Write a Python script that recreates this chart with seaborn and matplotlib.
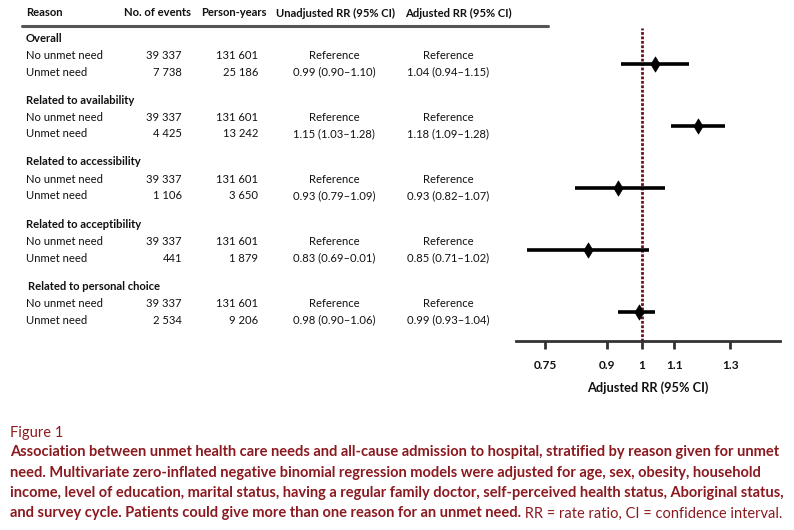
import matplotlib
matplotlib.use("Agg")
import matplotlib.pyplot as plt
import seaborn as sns
import numpy as np
import pandas as pd
from matplotlib.ticker import FixedLocator, NullLocator

# ---------------- data ----------------
groups = ["Overall", "Related to availability", "Related to accessibility",
          "Related to acceptibility", "Related to personal choice"]
row_labels = ["No unmet need", "Unmet need"]
events_no = ["39 337", "39 337", "39 337", "39 337", "39 337"]
events_yes = ["7 738", "4 425", "1 106", "441", "2 534"]
py_no = ["131 601", "131 601", "131 601", "131 601", "131 601"]
py_yes = ["25 186", "13 242", "3 650", "1 879", "9 206"]
unadj_yes = ["0.99 (0.90\u20131.10)", "1.15 (1.03\u20131.28)", "0.93 (0.79\u20131.09)",
             "0.83 (0.69\u20130.01)", "0.98 (0.90\u20131.06)"]
adj_yes = ["1.04 (0.94\u20131.15)", "1.18 (1.09\u20131.28)", "0.93 (0.82\u20131.07)",
           "0.85 (0.71\u20131.02)", "0.99 (0.93\u20131.04)"]
adj_rr = [1.04, 1.18, 0.93, 0.85, 0.99]
adj_lo = [0.94, 1.09, 0.82, 0.71, 0.93]
adj_hi = [1.15, 1.28, 1.07, 1.02, 1.04]
headers = ["Reason", "No. of events", "Person-years", "Unadjusted RR (95% CI)", "Adjusted RR (95% CI)"]
xticks = [0.75, 0.9, 1, 1.1, 1.3]
xtick_labels = ["0.75", "0.9", "1", "1.1", "1.3"]
xlabel = "Adjusted RR (95% CI)"
caption_title = "Figure 1"
caption_lines = [
    "Association between unmet health care needs and all-cause admission to hospital, stratified by reason given for unmet",
    "need. Multivariate zero-inflated negative binomial regression models were adjusted for age, sex, obesity, household",
    "income, level of education, marital status, having a regular family doctor, self-perceived health status, Aboriginal status,",
    "and survey cycle. Patients could give more than one reason for an unmet need.",
]
caption_tail = " RR = rate ratio, CI = confidence interval."

# ---------------- style ----------------
sns.set_theme(style="white")
plt.rcParams["font.family"] = ["Lato", "DejaVu Sans"]
W, H = 794, 530
fig = plt.figure(figsize=(W / 100, H / 100), dpi=100)
fig.patch.set_facecolor("white")
CAP_COLOR = "#8b1a20"
TXT = "#111111"

def fy(px):
    return 1 - px / H

def fx(px):
    return px / W

# layout (pixel rows)
group_y = [38 + 62 * k for k in range(len(groups))]
no_y = [g + 17.5 for g in group_y]
yes_y = [g + 34 for g in group_y]
mark_y = [(a + b) / 2 for a, b in zip(no_y, yes_y)]

FS = 8.1

# header
hx = [(26, "left"), (157, "center"), (234, "center"), (336, "center"), (458, "center")]
for (x, ha), h in zip(hx, headers):
    fig.text(fx(x), fy(13), h, ha=ha, va="center", fontsize=FS, fontweight="bold", color=TXT)
fig.add_artist(plt.Line2D([fx(22), fx(548)], [fy(26), fy(26)], color="#555555", lw=2.2))

for i, g in enumerate(groups):
    gx = 28 if i == len(groups) - 1 else 26
    fig.text(fx(gx), fy(group_y[i]), g, ha="left", va="center", fontsize=FS, fontweight="bold", color=TXT)
    for yy, lab, ev, py, un, ad in [
        (no_y[i], row_labels[0], events_no[i], py_no[i], "Reference", "Reference"),
        (yes_y[i], row_labels[1], events_yes[i], py_yes[i], unadj_yes[i], adj_yes[i]),
    ]:
        fig.text(fx(26), fy(yy), lab, ha="left", va="center", fontsize=FS, color=TXT)
        fig.text(fx(182), fy(yy), ev, ha="right", va="center", fontsize=FS, color=TXT)
        fig.text(fx(258), fy(yy), py, ha="right", va="center", fontsize=FS, color=TXT)
        fig.text(fx(334), fy(yy), un, ha="center", va="center", fontsize=FS, color=TXT)
        fig.text(fx(448), fy(yy), ad, ha="center", va="center", fontsize=FS, color=TXT)

# ---------------- forest axes ----------------
ax_left, ax_right, ax_top, ax_bot = 516, 780, 28, 341
ax = fig.add_axes([fx(ax_left), fy(ax_bot), (ax_right - ax_left) / W, (ax_bot - ax_top) / H])
ax.set_xscale("log")
ax.set_xlim(0.687, 1.507)
ax.set_ylim(ax_bot, ax_top)

df = pd.DataFrame({"rr": adj_rr, "lo": adj_lo, "hi": adj_hi, "y": mark_y})
ax.hlines(df["y"], df["lo"], df["hi"], color="black", lw=2.6, zorder=3)
sns.scatterplot(data=df, x="rr", y="y", marker="d", s=60, color="black",
                edgecolor="black", linewidth=0.5, ax=ax, zorder=4, legend=False)
ax.axvline(1, color="#6e0f1e", lw=2.0, ls=(0, (1, 0.6)), zorder=2)

for s in ["top", "right", "left"]:
    ax.spines[s].set_visible(False)
ax.spines["bottom"].set_color("#333333")
ax.spines["bottom"].set_linewidth(2)
ax.set_facecolor("none")
ax.xaxis.set_major_locator(FixedLocator(xticks))
ax.xaxis.set_minor_locator(NullLocator())
ax.set_xticklabels(xtick_labels, fontweight="bold", fontsize=8.6, color=TXT)
ax.tick_params(axis="x", which="major", direction="out", length=6, width=2, color="#333333",
               pad=8, bottom=True)
ax.set_yticks([])
ax.set_ylabel("")
ax.set_xlabel(xlabel, fontweight="bold", fontsize=9.2, color=TXT, labelpad=7)

# ---------------- caption ----------------
fig.text(fx(10), fy(433), caption_title, ha="left", va="center", fontsize=10.5, color=CAP_COLOR)
cap_y = [452, 472.5, 493, 513.5]
renderer = fig.canvas.get_renderer()
# fit bold caption size so first line spans ~773 px
probe = fig.text(0, 0, caption_lines[0], fontsize=10, fontweight="bold")
wpx = probe.get_window_extent(renderer).width
probe.remove()
cfs = 10 * 773 / wpx
last = None
for yy, line in zip(cap_y, caption_lines):
    last = fig.text(fx(10), fy(yy), line, ha="left", va="center", fontsize=cfs,
                    fontweight="bold", color=CAP_COLOR)
bb = last.get_window_extent(renderer)
fig.text(bb.x1 / W, fy(cap_y[-1]), caption_tail, ha="left", va="center", fontsize=cfs,
         fontweight="normal", color=CAP_COLOR)

fig.savefig("out.png", dpi=100, facecolor="white")
